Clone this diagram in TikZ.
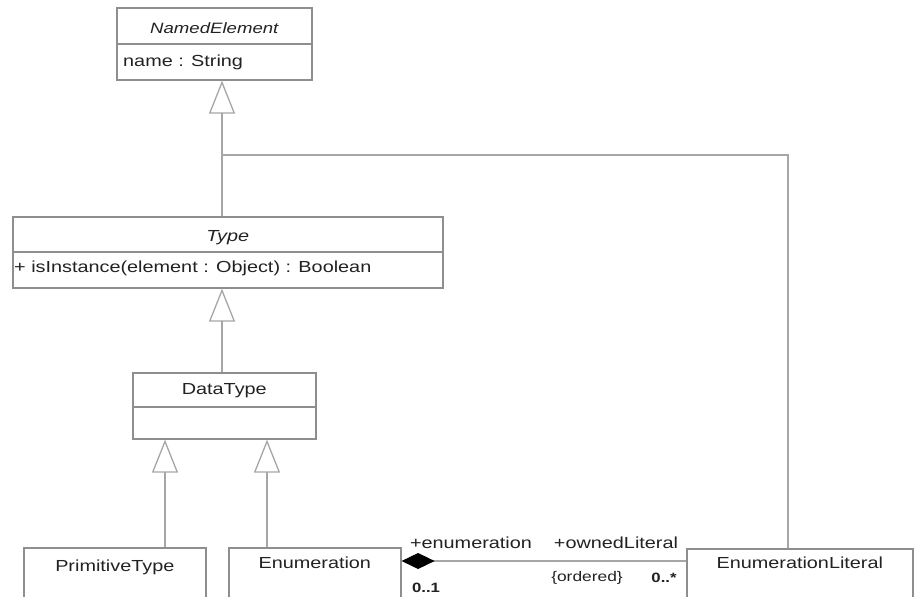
\documentclass[tikz,border=0pt]{standalone}
\usepackage{fontspec}
\setmainfont{Liberation Sans}[FakeStretch=1.24]
\usetikzlibrary{arrows.meta,calc}
\definecolor{boxline}{HTML}{8E8E8E}
\definecolor{connline}{HTML}{A6A6A6}
\definecolor{ink}{HTML}{222222}
\begin{document}
\begin{tikzpicture}[x=1pt,y=-1pt,
  cls/.style={draw=boxline, line width=1.6pt, fill=white, rectangle, inner sep=0pt, anchor=north west},
  txt/.style={text=ink, font=\fontsize{16}{19}\selectfont, inner sep=0pt},
  itxt/.style={txt, font=\fontsize{16}{19}\selectfont\itshape},
  small/.style={text=ink, font=\fontsize{14}{16}\selectfont, inner sep=0pt},
  mult/.style={text=ink, font=\fontsize{13.5}{16}\selectfont\bfseries, inner sep=0pt},
  conn/.style={draw=connline, line width=1.3pt},
  gen/.style={conn, -{Triangle[length=33pt, width=26pt, fill=white]}},
  comp/.style={conn, -{Diamond[length=33pt, width=16pt, fill=black, color=black]}}]
\useasboundingbox (0,0) rectangle (916,597);
\clip (0,0) rectangle (916,597);
\fill[white] (0,0) rectangle (916,597);

% NamedElement
\node[cls, minimum width=195pt, minimum height=36pt] (named-h) at (116,7) {};
\node[cls, minimum width=195pt, minimum height=36pt] (named-b) at (116,43) {};
\node[itxt, font=\fontsize{15}{18}\selectfont\itshape] (named-t) at ($(named-h.center)+(0,2)$) {NamedElement};
\node[txt, anchor=west] (named-a) at ($(named-b.west)+(7,1)$) {name : String};

% Type
\node[cls, minimum width=430pt, minimum height=35pt] (type-h) at (12,216) {};
\node[cls, minimum width=430pt, minimum height=36pt] (type-b) at (12,251) {};
\node[itxt] (type-t) at ($(type-h.center)+(0,3)$) {Type};
\node[txt, anchor=west] (type-o) at ($(type-b.west)+(2,-1)$) {+ isInstance(element : Object) : Boolean};

% DataType
\node[cls, minimum width=183pt, minimum height=34pt] (dt-h) at (132,372) {};
\node[cls, minimum width=183pt, minimum height=32pt] (dt-b) at (132,406) {};
\node[txt] (dt-t) at ($(dt-h.center)+(0,1)$) {DataType};

% Leaf classes
\node[cls, minimum width=182pt, minimum height=80pt] (prim) at (23,547) {};
\node[txt] (prim-t) at ($(prim.north)+(0,20)$) {PrimitiveType};
\node[cls, minimum width=172pt, minimum height=80pt] (enum) at (228,547) {};
\node[txt] (enum-t) at ($(enum.north)+(0,16)$) {Enumeration};
\node[cls, minimum width=226pt, minimum height=80pt] (lit) at (686,548) {};
\node[txt] (lit-t) at ($(lit.north)+(0,15)$) {EnumerationLiteral};

% anchor columns for the connectors
\coordinate (trunk) at (222,155);
\coordinate (gl) at (165,0);
\coordinate (gr) at (267,0);
\coordinate (assoc) at (0,561);

% generalizations
\draw[gen] (type-h.north -| trunk) -- (named-b.south -| trunk);
\draw[conn] (lit.north -| 788,0) |- (trunk);
\draw[gen] (dt-h.north -| trunk) -- (type-b.south -| trunk);
\draw[gen] (prim.north -| gl) -- (dt-b.south -| gl);
\draw[gen] (enum.north -| gr) -- (dt-b.south -| gr);

% composition
\draw[comp] (lit.west |- assoc) -- (enum.east |- assoc);
\node[txt] (role-e) at (471,543) {+enumeration};
\node[txt] (role-o) at (616,543) {+ownedLiteral};
\node[mult] (mult-e) at (426,588) {0..1};
\node[small] (ord) at (587,578) {\{ordered\}};
\node[mult] (mult-o) at (664,578) {0..*};
\end{tikzpicture}
\end{document}
